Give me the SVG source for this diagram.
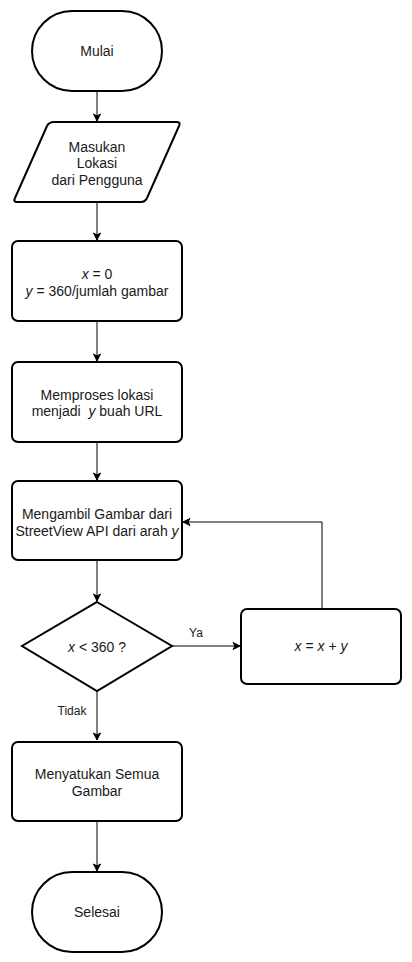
<svg xmlns="http://www.w3.org/2000/svg" width="412" height="962" viewBox="0 0 412 962">
<defs>
<marker id="arr" markerWidth="10" markerHeight="10" refX="8" refY="5" orient="auto" markerUnits="userSpaceOnUse">
<path d="M1,1.5 L8,5 L1,8.5 L3,5 Z" fill="#000" stroke="#000" stroke-width="1"/>
</marker>
</defs>
<style>
.s{fill:#fff;stroke:#000;stroke-width:2}
.t{font-family:"Liberation Sans",Arial,sans-serif;font-size:14px;fill:#1a1a1a;text-anchor:middle}
.e{font-family:"Liberation Sans",Arial,sans-serif;font-size:12px;fill:#1a1a1a;text-anchor:middle}
.l{fill:none;stroke:#000;stroke-width:1}
</style>
<rect width="412" height="962" fill="#fff"/>
<g id="connectors">
<path class="l" d="M97,91 V121" marker-end="url(#arr)"/>
<path class="l" d="M97,202 V240" marker-end="url(#arr)"/>
<path class="l" d="M97,321 V361" marker-end="url(#arr)"/>
<path class="l" d="M97,442 V480" marker-end="url(#arr)"/>
<path class="l" d="M97,560 V601" marker-end="url(#arr)"/>
<path class="l" d="M172,646 H240" marker-end="url(#arr)"/>
<path class="l" d="M322,609 V522 H183" marker-end="url(#arr)"/>
<path class="l" d="M97,691 V740" marker-end="url(#arr)"/>
<path class="l" d="M97,821 V871" marker-end="url(#arr)"/>
<text class="e" x="196" y="637">Ya</text>
<text class="e" x="72" y="715">Tidak</text>
</g>
<g id="mulai">
<rect class="s" x="32" y="11" width="130" height="80" rx="40" ry="40"/>
<text class="t" x="97" y="56">Mulai</text>
</g>
<g id="input">
<path class="s" d="M54,122 H177 Q181,122 179,126 L147,198 Q145,202 141,202 H17 Q13,202 15,198 L47,126 Q49,122 54,122 Z"/>
<text class="t" x="97" y="152">Masukan</text>
<text class="t" x="97" y="168">Lokasi</text>
<text class="t" x="97" y="185">dari Pengguna</text>
</g>
<g id="init">
<rect class="s" x="12" y="241" width="170" height="80" rx="6" ry="6"/>
<text class="t" x="97" y="279"><tspan font-style="italic">x</tspan> = 0</text>
<text class="t" x="97" y="296"><tspan font-style="italic">y</tspan> = 360/jumlah gambar</text>
</g>
<g id="proses">
<rect class="s" x="12" y="362" width="170" height="80" rx="6" ry="6"/>
<text class="t" x="97" y="400">Memproses lokasi</text>
<text class="t" x="97" y="416">menjadi&#160; <tspan font-style="italic">y</tspan> buah URL</text>
</g>
<g id="ambil">
<rect class="s" x="12" y="481" width="170" height="79" rx="6" ry="6"/>
<text class="t" x="97" y="519">Mengambil Gambar dari</text>
<text class="t" x="97" y="536">StreetView API dari arah <tspan font-style="italic">y</tspan></text>
</g>
<g id="cek">
<path class="s" d="M97,602 L172,646 L97,691 L22,646 Z"/>
<text class="t" x="97" y="652"><tspan font-style="italic">x</tspan> &lt; 360 ?</text>
</g>
<g id="tambah">
<rect class="s" x="241" y="609" width="160" height="75" rx="6" ry="6"/>
<text class="t" x="321" y="651"><tspan font-style="italic">x</tspan> = <tspan font-style="italic">x</tspan> + <tspan font-style="italic">y</tspan></text>
</g>
<g id="satukan">
<rect class="s" x="12" y="742" width="170" height="79" rx="6" ry="6"/>
<text class="t" x="97" y="779">Menyatukan Semua</text>
<text class="t" x="97" y="796">Gambar</text>
</g>
<g id="selesai">
<rect class="s" x="32" y="872" width="130" height="80" rx="40" ry="40"/>
<text class="t" x="97" y="917">Selesai</text>
</g>
</svg>
